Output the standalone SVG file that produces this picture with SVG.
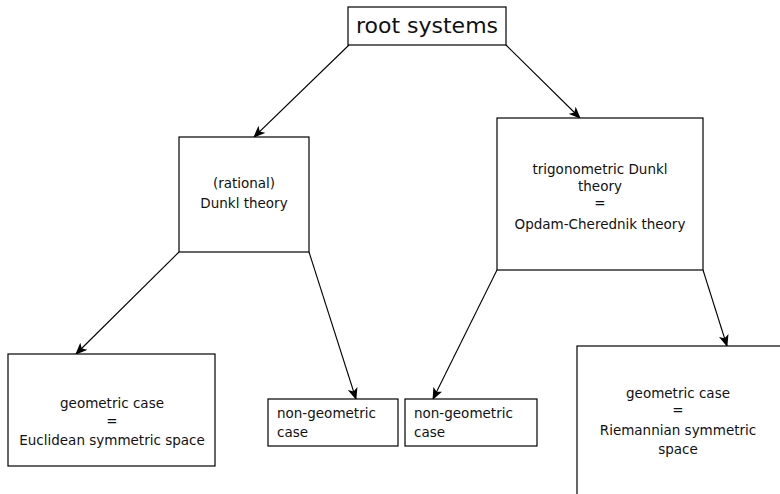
<svg xmlns="http://www.w3.org/2000/svg" width="780" height="494" viewBox="0 0 780 494">
<defs>
<style>
.box{fill:#fff;stroke:#000;stroke-width:1.2}
.t{font-family:"DejaVu Sans","Liberation Sans",sans-serif;font-size:13.5px;fill:#111;text-anchor:middle}
.tl{font-family:"DejaVu Sans","Liberation Sans",sans-serif;font-size:13.5px;fill:#111}
.big{font-family:"DejaVu Sans","Liberation Sans",sans-serif;font-size:22px;fill:#111;text-anchor:middle}
.c{stroke:#000;stroke-width:1.1;fill:none;marker-end:url(#ah)}
</style>
<marker id="ah" viewBox="0 0 12 10" refX="11" refY="5" markerWidth="12" markerHeight="10" markerUnits="userSpaceOnUse" orient="auto">
<path d="M0,0 L12,5 L0,10 L3,5 Z" fill="#000"/>
</marker>
</defs>
<rect width="780" height="494" fill="#fff"/>
<g id="connectors">
<line class="c" x1="349" y1="45" x2="254" y2="137"/>
<line class="c" x1="506" y1="45" x2="580" y2="118"/>
<line class="c" x1="179" y1="252" x2="76" y2="354"/>
<line class="c" x1="309" y1="252" x2="356" y2="399"/>
<line class="c" x1="497" y1="270" x2="433" y2="399"/>
<line class="c" x1="703" y1="270" x2="727" y2="346"/>
</g>
<g id="root">
<rect class="box" x="348" y="7" width="158" height="38"/>
<text class="big" x="427" y="33">root systems</text>
</g>
<g id="dunkl">
<rect class="box" x="179" y="137" width="130" height="115"/>
<text class="t" x="244" y="188">(rational)</text>
<text class="t" x="244" y="208">Dunkl theory</text>
</g>
<g id="trig">
<rect class="box" x="497" y="118" width="206" height="152"/>
<text class="t" x="600" y="174">trigonometric Dunkl</text>
<text class="t" x="600" y="191">theory</text>
<text class="t" x="600" y="208">=</text>
<text class="t" x="600" y="229">Opdam-Cherednik theory</text>
</g>
<g id="euclid">
<rect class="box" x="8" y="354" width="207" height="112"/>
<text class="t" x="112" y="408">geometric case</text>
<text class="t" x="112" y="426">=</text>
<text class="t" x="112" y="445">Euclidean symmetric space</text>
</g>
<g id="nongeo1">
<rect class="box" x="268" y="399" width="130" height="47"/>
<text class="tl" x="277" y="418">non-geometric</text>
<text class="tl" x="277" y="437">case</text>
</g>
<g id="nongeo2">
<rect class="box" x="405" y="399" width="132" height="47"/>
<text class="tl" x="414" y="418">non-geometric</text>
<text class="tl" x="414" y="437">case</text>
</g>
<g id="riemann">
<rect class="box" x="577" y="346" width="220" height="160"/>
<text class="t" x="678" y="398">geometric case</text>
<text class="t" x="678" y="415">=</text>
<text class="t" x="678" y="435">Riemannian symmetric</text>
<text class="t" x="678" y="454">space</text>
</g>
</svg>
